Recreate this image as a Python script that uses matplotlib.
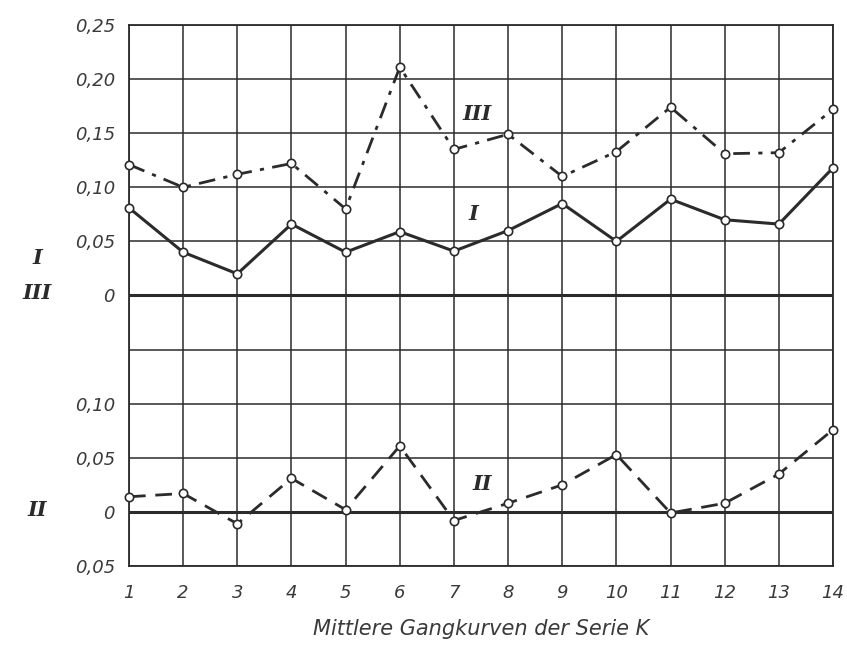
import matplotlib.pyplot as plt
import numpy as np

# Serie K, Gangkurven 1..14
kurve = list(range(1, 15))
werte_I = [0.081, 0.040, 0.020, 0.066, 0.040, 0.059, 0.041, 0.060, 0.085, 0.050, 0.089, 0.070, 0.066, 0.118]
werte_III = [0.121, 0.100, 0.112, 0.122, 0.080, 0.211, 0.135, 0.149, 0.110, 0.133, 0.174, 0.131, 0.132, 0.172]
werte_II = [0.014, 0.017, -0.011, 0.031, 0.002, 0.061, -0.008, 0.008, 0.025, 0.053, -0.001, 0.008, 0.035, 0.076]

# lower panel (II) sits 0,20 below the upper zero line
versatz_II = -0.20
y_ticks = [0.25, 0.20, 0.15, 0.10, 0.05, 0.0, -0.10, -0.15, -0.20, -0.25]
y_labels = ["0,25", "0,20", "0,15", "0,10", "0,05", "0", "0,10", "0,05", "0", "0,05"]
x_labels = [str(k) for k in kurve]

ink = "#2b2b2b"
fig = plt.figure(figsize=(8.47, 6.49), dpi=100)
ax = fig.add_axes([0.1523, 0.1279, 0.8312, 0.8336])

ax.set_xlim(1, 14)
ax.set_ylim(-0.25, 0.25)

# grid
for k in kurve:
    ax.axvline(k, color=ink, lw=1.1, zorder=1)
for y in np.arange(-0.25, 0.2501, 0.05):
    ax.axhline(y, color=ink, lw=1.1, zorder=1)
ax.axhline(0.0, color=ink, lw=2.2, zorder=2)
ax.axhline(versatz_II, color=ink, lw=2.2, zorder=2)

mk = dict(marker="o", markersize=6, markerfacecolor="white", markeredgecolor=ink,
          markeredgewidth=1.2, color=ink, zorder=3, clip_on=False)
ax.plot(kurve, werte_I, lw=2.2, ls="-", **mk)
ax.plot(kurve, werte_III, lw=2.0, ls=(0, (6, 3, 1.5, 3)), **mk)
ax.plot(kurve, np.array(werte_II) + versatz_II, lw=2.0, ls=(0, (6, 3.5)), **mk)

roman = dict(family="DejaVu Serif", style="italic", fontweight="bold", fontsize=15, color=ink)
ax.text(7.43, 0.168, "III", ha="center", va="center", **roman)
ax.text(7.35, 0.075, "I", ha="center", va="center", **roman)
ax.text(7.52, versatz_II + 0.026, "II", ha="center", va="center", **roman)

for s in ax.spines.values():
    s.set_color(ink)
    s.set_linewidth(1.3)

ax.set_xticks(kurve)
ax.set_xticklabels(x_labels)
ax.set_yticks(y_ticks)
ax.set_yticklabels(y_labels)
ax.tick_params(length=0, labelsize=13, colors="#3a3a3a")
ax.tick_params(axis="x", pad=13)
ax.tick_params(axis="y", pad=10)
for t in ax.get_xticklabels() + ax.get_yticklabels():
    t.set_style("italic")

# series markers at the zero lines
fig.text(37 / 847, 1 - 258 / 649, "I", ha="center", va="center", **roman)
fig.text(37 / 847, 1 - 293 / 649, "III", ha="center", va="center", **roman)
fig.text(37 / 847, 1 - 510 / 649, "II", ha="center", va="center", **roman)

ax.set_xlabel("Mittlere Gangkurven der Serie K", fontsize=15, style="italic", color="#3a3a3a", labelpad=12)

fig.savefig("out.png", dpi=100)
